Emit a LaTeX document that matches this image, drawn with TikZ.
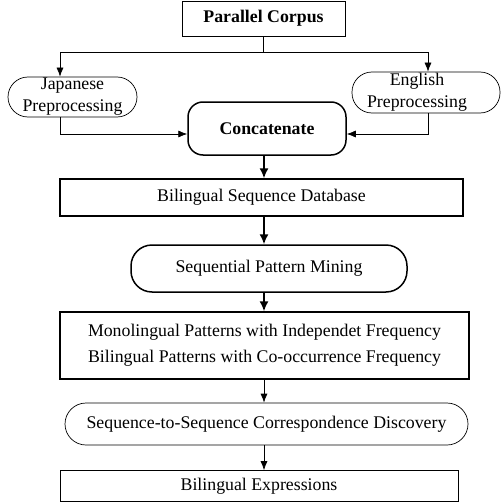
\documentclass[tikz,border=0pt]{standalone}
\usepackage{fontspec}
\setmainfont{Liberation Serif}
\usetikzlibrary{arrows.meta,positioning,calc}

\begin{document}
\begin{tikzpicture}[x=1pt,y=-1pt,font=\fontsize{17.8}{22}\selectfont,
    every node/.style={align=center,inner sep=0pt},
    thinbox/.style={draw,line width=0.7pt},
    thickbox/.style={draw,line width=1.5pt},
    arr/.style={-{Latex[length=9pt,width=7pt]},line width=0.7pt},
    thickarr/.style={-{Latex[length=10pt,width=9pt]},line width=1.5pt}]
        \useasboundingbox (0,0) rectangle (502,503);

        % Input and the two preprocessing steps
        \node[thinbox,minimum width=163,minimum height=35]
          (corpus) at (263.5,18.5) {\textbf{Parallel Corpus}};
        \node[thinbox,rounded corners=20,minimum width=129,minimum height=40]
          (jap) at (72.5,97) {Japanese\\Preprocessing};
        \node[thinbox,rounded corners=20,minimum width=148,minimum height=41]
          (eng) at (426,92.5) {\hspace*{-18pt}English\\\hspace*{-18pt}Preprocessing};
        \node[thickbox,rounded corners=15,minimum width=158,minimum height=53]
          (concat) at (267,128.5) {\textbf{Concatenate}};

        % Main pipeline (top to bottom)
        \node[thickbox,minimum width=403,minimum height=37]
          (bsd) at (261.5,197.5) {Bilingual Sequence Database};
        \node[thickbox,rounded corners=21,minimum width=276,minimum height=47]
          (spm) at (269,268.5) {Sequential Pattern Mining};
        \node[thickbox,minimum width=409,minimum height=67,
          font=\fontsize{17.8}{26}\selectfont]
          (pat) at (264.5,345.5) {Monolingual Patterns with Independet Frequency\\
          Bilingual Patterns with Co-occurrence Frequency};
        \node[thinbox,rounded corners=21,minimum width=403,minimum height=42]
          (s2s) at (266.5,424) {Sequence-to-Sequence Correspondence Discovery};
        \node[thinbox,minimum width=398,minimum height=31]
          (expr) at (259,486) {Bilingual Expressions};

        % Connector columns
        \coordinate (jx) at (60,0);
        \coordinate (ex) at (428,0);
        \coordinate (mid) at (264,0);

        % Split the corpus
        \draw[line width=0.7pt] (corpus.south) -- ++(0,16) coordinate (split);
        \draw[arr] (split) -| (jx |- jap.north);
        \draw[arr] (split) -| (ex |- eng.north);

        % Join into Concatenate
        \draw[arr] (jx |- jap.south) |- ([yshift=-5.5pt]concat.west);
        \draw[arr] (ex |- eng.south) |- ([yshift=-5.5pt]concat.east);

        % Pipeline arrows
        \draw[thickarr] (mid |- concat.south) -- (mid |- bsd.north);
        \draw[thickarr] (mid |- bsd.south) -- (mid |- spm.north);
        \draw[thickarr] (mid |- spm.south) -- (mid |- pat.north);
        \draw[arr] (mid |- pat.south) -- (mid |- s2s.north);
        \draw[arr] (mid |- s2s.south) -- (mid |- expr.north);
\end{tikzpicture}
\end{document}
